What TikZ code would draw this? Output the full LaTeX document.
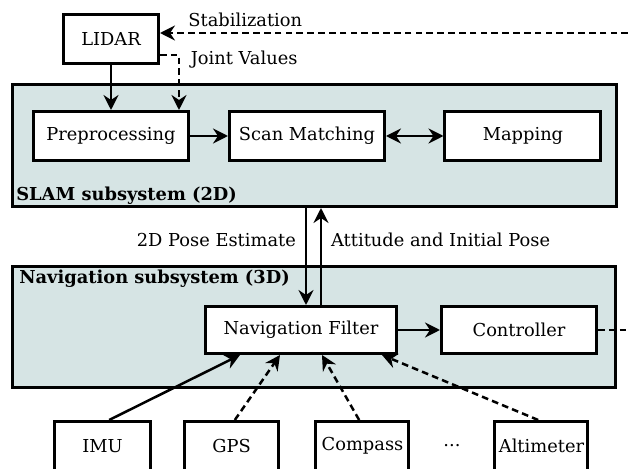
\documentclass[tikz,border=0pt]{standalone}
\usepackage{fontspec}
\setmainfont{DejaVu Serif}
\usetikzlibrary{positioning,arrows.meta,calc}
\definecolor{subsys}{RGB}{214,228,228}

\begin{document}
\begin{tikzpicture}[
      x=0.6pt, y=-0.6pt,
      node distance=20pt and 20pt,
      txt/.style={font=\fontsize{10.7}{12}\selectfont},
      box/.style={draw, line width=1.8pt, fill=white, align=center, txt,
                  minimum height=29.4pt, inner sep=2pt},
      sub/.style={draw, line width=1.8pt, fill=subsys, inner sep=0pt},
      hdr/.style={font=\fontsize{10.7}{12}\selectfont\bfseries, inner sep=0pt, anchor=west},
      link/.style={->, line width=1.5pt},
      opt/.style={link, dash pattern=on 4pt off 2.5pt},
      >={Stealth[length=9pt, width=9pt, inset=3pt]}]
    \useasboundingbox (0,0) rectangle (628,469);
    % subsystems
    \node[sub, minimum width=362.4pt, minimum height=73.2pt] (slam) at (314.5,145.5) {};
    \node[sub, minimum width=361.8pt, minimum height=72.6pt] (nav)  at (314,327) {};
    \node[hdr] (slamlbl) at (16,196) {SLAM subsystem (2D)};
    \node[hdr] (navlbl)  at (19,279) {Navigation subsystem (3D)};
    % SLAM
    \node[box, minimum width=57pt]                     (lidar) at (111,39) {LIDAR};
    \node[box, minimum width=93pt]                     (pre)   at (111,136) {Preprocessing};
    \node[box, minimum width=93pt, right=22.8pt of pre]   (scan) {Scan Matching};
    \node[box, minimum width=93.6pt, right=34.5pt of scan] (map) {Mapping};
    % navigation
    \node[box, minimum width=114.6pt, minimum height=28.2pt] (filt) at (301,330) {Navigation Filter};
    \node[box, minimum width=93pt, minimum height=28.2pt, right=25.2pt of filt] (ctrl) {Controller};
    % sensors
    \node[box, minimum width=57.6pt]                      (imu)  at (102.5,446) {IMU};
    \node[box, minimum width=56.4pt, right=18.6pt of imu]  (gps)  {GPS};
    \node[box, minimum width=55.8pt, right=20.7pt of gps]  (comp) {Compass};
    \node[box, minimum width=55.8pt, right=49.8pt of comp] (alt)  {Altimeter};
    \node[txt] (more) at ($(comp)!0.5!(alt)$) {...};

    \coordinate (stabin)  at (628,33);
    \coordinate (ctrlout) at (628,330);
    \coordinate (pdn) at ([xshift=3pt]filt.north);
    \coordinate (pup) at ([xshift=12pt]filt.north);

    \draw[opt] (stabin) -- (stabin -| lidar.east)
      node[txt, anchor=west, xshift=13pt, yshift=7.8pt] {Stabilization};
    \draw[opt] ([yshift=-9.6pt]lidar.east) -| ([xshift=40.8pt]pre.north)
      node[txt, pos=0.5, anchor=west, xshift=3pt, yshift=-3pt] {Joint Values};
    \draw[link] (lidar) -- (pre);
    \draw[link] (pre) -- (scan);
    \draw[link, <->] (scan) -- (map);

    \draw[link] (pdn |- slam.south) -- (pdn)
      node[txt, pos=0.33, left, xshift=-2pt] {2D Pose Estimate};
    \draw[link] (pup) -- (pup |- slam.south)
      node[txt, pos=0.67, right, xshift=2pt] {Attitude and Initial Pose};
    \draw[link] (filt) -- (ctrl);
    \draw[line width=1.5pt, dash pattern=on 4pt off 2.5pt] (ctrl.east) -- (ctrlout);

    \draw[link] ([xshift=4pt]imu.north) -- ([xshift=-36.6pt]filt.south);
    \draw[opt] ([xshift=2pt]gps.north) -- ([xshift=-12.6pt]filt.south);
    \draw[opt] ([xshift=-2pt]comp.north) -- ([xshift=12.6pt]filt.south);
    \draw[opt] ([xshift=-2pt]alt.north) -- ([xshift=48.6pt]filt.south);
  \end{tikzpicture}
\end{document}
